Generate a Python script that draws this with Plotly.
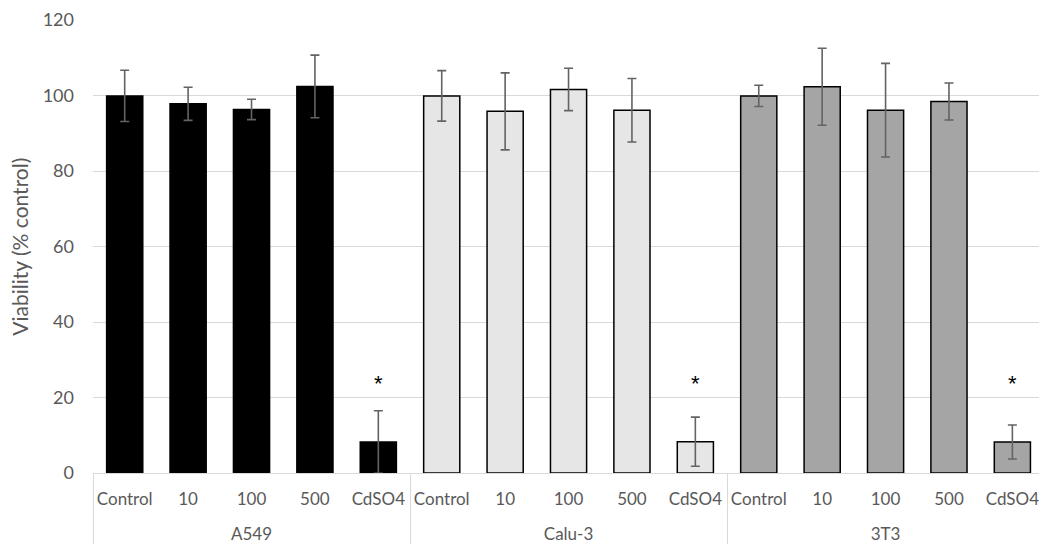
import plotly.graph_objects as go

groups = ["A549", "Calu-3", "3T3"]
doses = ["Control", "10", "100", "500", "CdSO4"]

a549 = [99.9, 97.8, 96.3, 102.4, 8.2]
a549_err = [6.8, 4.4, 2.7, 8.3, 8.3]
calu3 = [99.9, 95.8, 101.6, 96.1, 8.3]
calu3_err = [6.7, 10.2, 5.6, 8.4, 6.5]
t3t3 = [99.9, 102.3, 96.1, 98.4, 8.2]
t3t3_err = [2.8, 10.2, 12.4, 4.9, 4.5]

fills = {"A549": "#000000", "Calu-3": "#e7e6e6", "3T3": "#a5a5a5"}
sig_y = 23.3  # asterisk level (% control)

values = a549 + calu3 + t3t3
errors = a549_err + calu3_err + t3t3_err
grp = [g for g in groups for _ in doses]
cat = doses * len(groups)
colors = [fills[g] for g in grp]
grp_lbl = ["<br>" + g for g in grp]

fig = go.Figure()
fig.add_trace(go.Bar(
    x=[grp_lbl, cat], y=values,
    marker=dict(color=colors, line=dict(color="#000000", width=1.5)),
    width=0.57,
    error_y=dict(type="data", array=errors, visible=True,
                 color="#636363", thickness=1.6, width=4.5),
    showlegend=False,
))
fig.add_trace(go.Scatter(
    x=[["<br>" + g for g in groups], ["CdSO4"] * 3], y=[sig_y] * 3,
    mode="text", text=["*"] * 3,
    textfont=dict(family="Liberation Sans", size=22, color="#000000"),
    textposition="middle center", showlegend=False,
))

font_fam = "Lato"
fig.update_layout(
    width=1039, height=554,
    margin=dict(l=93, r=0, t=20, b=81),
    plot_bgcolor="white", paper_bgcolor="white",
    font=dict(family=font_fam, size=18, color="#595959"),
    bargap=0.43,
)
fig.update_xaxes(
    type="multicategory", range=[-0.5, 14.42],
    showline=True, linecolor="#d9d9d9", linewidth=1,
    showdividers=True, dividercolor="#d9d9d9", dividerwidth=1,
    ticks="", showgrid=False, ticklabelstandoff=11,
    tickangle=0, automargin=False,
    tickfont=dict(family=font_fam, size=17, color="#595959"),
)
fig.update_yaxes(
    range=[0, 120], dtick=20, tick0=0,
    showgrid=True, gridcolor="#d9d9d9", gridwidth=1,
    zeroline=False, showline=False, ticks="",
    ticklabelstandoff=18, automargin=False,
    tickfont=dict(family=font_fam, size=18, color="#595959"),
)
fig.add_annotation(
    text="Viability (% control)", textangle=-90,
    xref="paper", yref="paper", x=-0.078, y=0.5,
    xanchor="center", yanchor="middle", showarrow=False,
    font=dict(family=font_fam, size=21, color="#595959"),
)

fig.write_html("out.html")
